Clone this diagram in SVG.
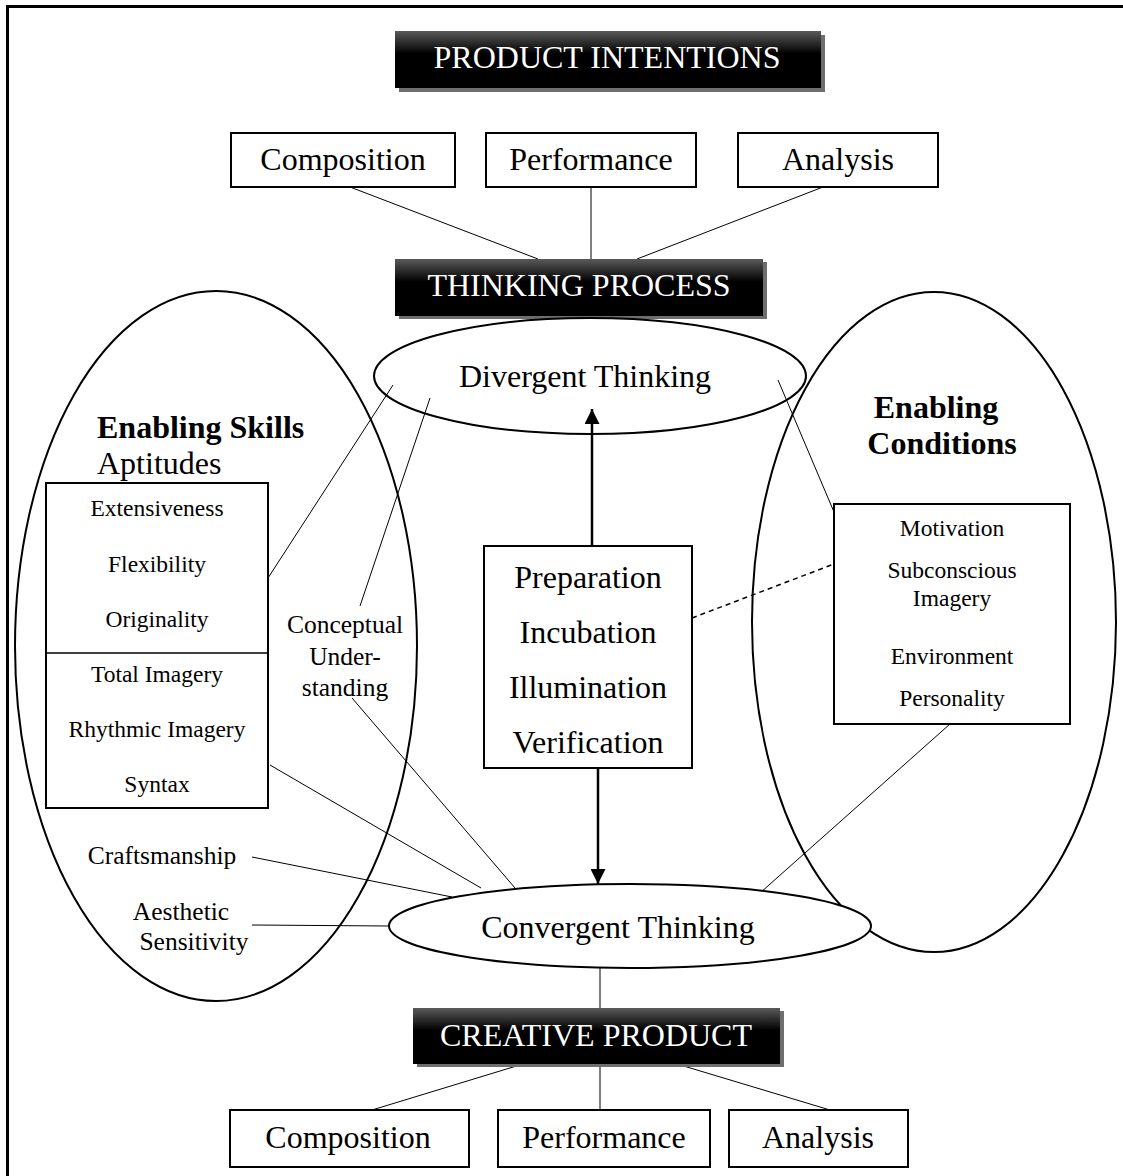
<svg xmlns="http://www.w3.org/2000/svg" width="1123" height="1176" viewBox="0 0 1123 1176">
  <style>
    text { font-family: "Liberation Serif", "Times New Roman", serif; fill: #000; }
    .t32 { font-size: 32px; }
    .t24 { font-size: 23.5px; }
    .t26 { font-size: 25.5px; }
    .bold { font-weight: bold; }
    .banner text { fill: #fff; font-size: 32px; }
    .box { fill: #fff; stroke: #000; stroke-width: 2; }
    .ell { fill: none; stroke: #000; stroke-width: 2; }
    .ellw { fill: #fff; stroke: #000; stroke-width: 2; }
    .link { stroke: #000; stroke-width: 1; fill: none; }
    .arrow { stroke: #000; stroke-width: 2.5; fill: none; }
    .dash { stroke: #000; stroke-width: 1.5; stroke-dasharray: 5 4; fill: none; }
  </style>
  <defs>
    <linearGradient id="bannerFill" x1="0" y1="0" x2="0" y2="1">
      <stop offset="0" stop-color="#5a5a5a"/>
      <stop offset="0.4" stop-color="#000"/>
      <stop offset="1" stop-color="#000"/>
    </linearGradient>
    <marker id="head" viewBox="0 0 10 10" refX="10" refY="5" markerWidth="6" markerHeight="6" markerUnits="strokeWidth" orient="auto">
      <path d="M0,0 L10,5 L0,10 Z" fill="#000"/>
    </marker>
  </defs>

  <rect width="1123" height="1176" fill="#fff"/>
  <!-- page frame -->
  <rect x="7.5" y="6.5" width="1130" height="1190" fill="none" stroke="#000" stroke-width="3"/>

  <!-- large enabling ellipses (drawn first, behind everything) -->
  <g id="enabling-skills">
    <ellipse class="ell" cx="216" cy="646" rx="201" ry="355"/>
    <text class="t32 bold" x="97" y="438">Enabling Skills</text>
    <text class="t32" x="97" y="474">Aptitudes</text>
  </g>
  <g id="enabling-conditions">
    <ellipse class="ell" cx="934" cy="622" rx="182" ry="330"/>
    <text class="t32 bold" x="936" y="418" text-anchor="middle">Enabling</text>
    <text class="t32 bold" x="942" y="454" text-anchor="middle">Conditions</text>
  </g>

  <!-- connectors -->
  <g id="connectors">
    <line class="link" x1="350" y1="187" x2="538" y2="259"/>
    <line class="link" x1="591" y1="187" x2="591" y2="259"/>
    <line class="link" x1="823" y1="187" x2="637" y2="259"/>
    <line class="link" x1="268" y1="578" x2="393" y2="385"/>
    <line class="link" x1="360" y1="606" x2="430" y2="398"/>
    <line class="link" x1="778" y1="380" x2="834" y2="512"/>
    <line class="link" x1="270" y1="765" x2="481" y2="888"/>
    <line class="link" x1="352" y1="698" x2="515" y2="888"/>
    <line class="link" x1="252" y1="857" x2="452" y2="897"/>
    <line class="link" x1="252" y1="925" x2="389" y2="926"/>
    <line class="link" x1="950" y1="724" x2="760" y2="893"/>
    <line class="link" x1="600" y1="968" x2="600" y2="1008"/>
    <line class="link" x1="523" y1="1064" x2="372" y2="1110"/>
    <line class="link" x1="600" y1="1064" x2="600" y2="1110"/>
    <line class="link" x1="677" y1="1064" x2="830" y2="1110"/>
    <line class="dash" x1="692" y1="618" x2="834" y2="564"/>
    <line class="arrow" x1="592" y1="546" x2="592" y2="409" marker-end="url(#head)"/>
    <line class="arrow" x1="598" y1="768" x2="598" y2="884" marker-end="url(#head)"/>
  </g>

  <!-- banners -->
  <g id="product-intentions" class="banner">
    <rect x="399" y="35" width="426" height="57" fill="#6e6e6e"/>
    <rect x="395" y="31" width="426" height="57" fill="url(#bannerFill)"/>
    <text x="607" y="68" text-anchor="middle">PRODUCT INTENTIONS</text>
  </g>
  <g id="thinking-process" class="banner">
    <rect x="399" y="262" width="368" height="57" fill="#6e6e6e"/>
    <rect x="395" y="259" width="368" height="57" fill="url(#bannerFill)"/>
    <text x="579" y="296" text-anchor="middle">THINKING PROCESS</text>
  </g>
  <g id="creative-product" class="banner">
    <rect x="417" y="1011" width="367" height="56" fill="#6e6e6e"/>
    <rect x="413" y="1008" width="367" height="56" fill="url(#bannerFill)"/>
    <text x="596" y="1046" text-anchor="middle">CREATIVE PRODUCT</text>
  </g>

  <!-- product intentions -->
  <g id="intent-composition">
    <rect class="box" x="231" y="133" width="224" height="54"/>
    <text class="t32" x="343" y="170" text-anchor="middle">Composition</text>
  </g>
  <g id="intent-performance">
    <rect class="box" x="486" y="133" width="210" height="54"/>
    <text class="t32" x="591" y="170" text-anchor="middle">Performance</text>
  </g>
  <g id="intent-analysis">
    <rect class="box" x="738" y="133" width="200" height="54"/>
    <text class="t32" x="838" y="170" text-anchor="middle">Analysis</text>
  </g>

  <!-- divergent thinking -->
  <g id="divergent-thinking">
    <ellipse class="ell" cx="590" cy="376" rx="216" ry="58"/>
    <text class="t32" x="585" y="387" text-anchor="middle">Divergent Thinking</text>
  </g>

  <!-- aptitudes box -->
  <g id="aptitudes">
    <rect class="box" x="46" y="483" width="222" height="325"/>
    <line x1="46" y1="653" x2="268" y2="653" stroke="#000" stroke-width="1.5"/>
    <text class="t24" x="157" y="516" text-anchor="middle">Extensiveness</text>
    <text class="t24" x="157" y="572" text-anchor="middle">Flexibility</text>
    <text class="t24" x="157" y="627" text-anchor="middle">Originality</text>
    <text class="t24" x="157" y="682" text-anchor="middle">Total Imagery</text>
    <text class="t24" x="157" y="737" text-anchor="middle">Rhythmic Imagery</text>
    <text class="t24" x="157" y="792" text-anchor="middle">Syntax</text>
  </g>

  <g id="conceptual-understanding">
    <text class="t26" x="345" y="633" text-anchor="middle">Conceptual</text>
    <text class="t26" x="345" y="665" text-anchor="middle">Under-</text>
    <text class="t26" x="345" y="696" text-anchor="middle">standing</text>
  </g>

  <g id="craftsmanship">
    <text class="t26" x="162" y="864" text-anchor="middle">Craftsmanship</text>
  </g>
  <g id="aesthetic-sensitivity">
    <text class="t26" x="181" y="920" text-anchor="middle">Aesthetic</text>
    <text class="t26" x="194" y="950" text-anchor="middle">Sensitivity</text>
  </g>

  <!-- stages -->
  <g id="stages">
    <rect class="box" x="484" y="546" width="208" height="222"/>
    <text class="t32" x="588" y="588" text-anchor="middle">Preparation</text>
    <text class="t32" x="588" y="643" text-anchor="middle">Incubation</text>
    <text class="t32" x="588" y="698" text-anchor="middle">Illumination</text>
    <text class="t32" x="588" y="753" text-anchor="middle">Verification</text>
  </g>

  <!-- conditions box -->
  <g id="conditions">
    <rect class="box" x="834" y="504" width="236" height="220"/>
    <text class="t24" x="952" y="536" text-anchor="middle">Motivation</text>
    <text class="t24" x="952" y="578" text-anchor="middle">Subconscious</text>
    <text class="t24" x="952" y="606" text-anchor="middle">Imagery</text>
    <text class="t24" x="952" y="664" text-anchor="middle">Environment</text>
    <text class="t24" x="952" y="706" text-anchor="middle">Personality</text>
  </g>

  <!-- convergent thinking -->
  <g id="convergent-thinking">
    <ellipse class="ellw" cx="630" cy="926" rx="241" ry="42"/>
    <text class="t32" x="618" y="938" text-anchor="middle">Convergent Thinking</text>
  </g>

  <!-- creative product outputs -->
  <g id="product-composition">
    <rect class="box" x="230" y="1110" width="239" height="57"/>
    <text class="t32" x="348" y="1148" text-anchor="middle">Composition</text>
  </g>
  <g id="product-performance">
    <rect class="box" x="498" y="1110" width="212" height="57"/>
    <text class="t32" x="604" y="1148" text-anchor="middle">Performance</text>
  </g>
  <g id="product-analysis">
    <rect class="box" x="729" y="1110" width="179" height="57"/>
    <text class="t32" x="818" y="1148" text-anchor="middle">Analysis</text>
  </g>
</svg>
